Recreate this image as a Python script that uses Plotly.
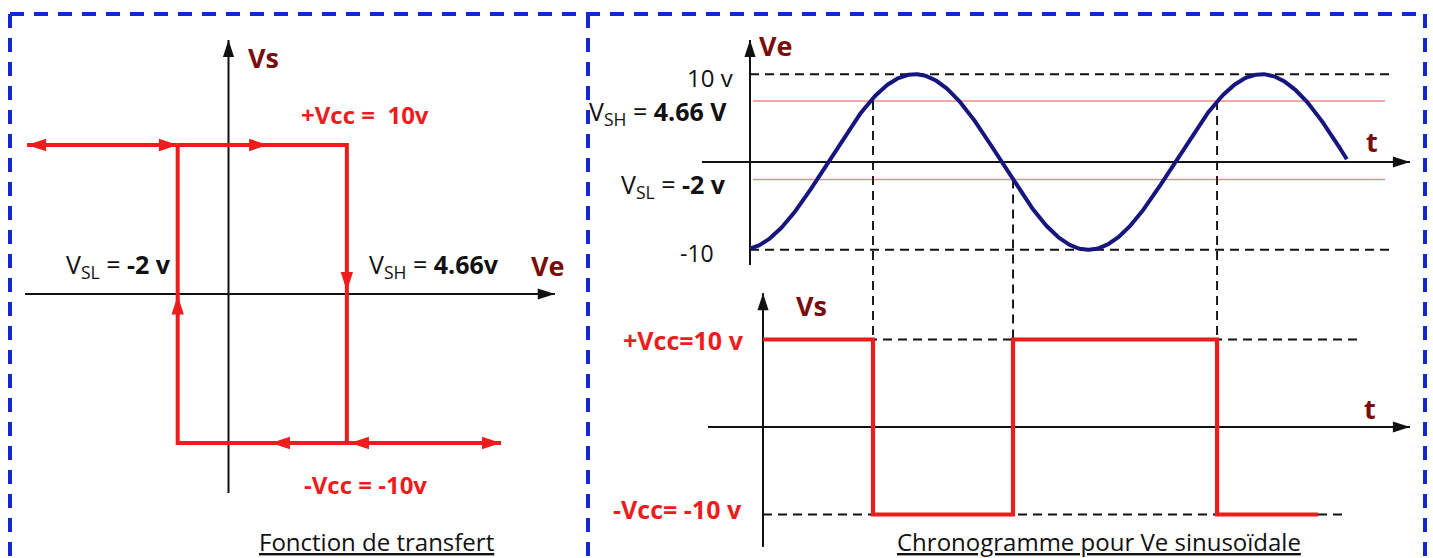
import math
import plotly.graph_objects as go

# ---------------- data ----------------
VCC = 10.0          # saturation level (V)
VSL = -2.0          # low threshold (V)
VSH = 4.66          # high threshold (V)

# transfer characteristic Vs = f(Ve) : hysteresis loop
loop_ve = [VSL, VSH, VSH, VSL, VSL]
loop_vs = [VCC, VCC, -VCC, -VCC, VCC]
ext_left_ve = [-7.93, VSL]      # double arrow on +Vcc branch
ext_right_ve = [VSH, 10.73]     # double arrow on -Vcc branch
loop_arrow_ve = [-7.93, -1.99, 1.56, VSH, VSL, 1.67, 4.78, 10.73]
loop_arrow_vs = [VCC, VCC, VCC, 0.2, -0.1, -VCC, -VCC, -VCC]
loop_arrow_dir = [270, 90, 90, 180, 0, 270, 270, 90]
transfer_axis_ve = [-8.01, 12.85]
transfer_axis_vs = [-13.36, 17.05]

# chronogram: sinusoidal input Ve(t)  (t in ms)
sine_amp = 10.0
sine_period = 20.0
sine_zero_up = 4.5
sine_t_start, sine_t_end = 0.0, 34.4
vsh_drawn = 6.95     # level of the V_SH line as drawn on the chronogram
vsl_drawn = -2.0
switch_t = [7.09, 15.16, 26.92]     # output switching instants
switch_level = [vsh_drawn, vsl_drawn, vsh_drawn]
chrono_t_span = [0.0, 36.9]
thr_t_span = [0.17, 36.6]
ve_axis_t = [-2.77, 38.04]
ve_axis_v = [-11.73, 13.9]

# output square wave Vs(t)
vs_t = [0.75, 7.09, 7.09, 15.16, 15.16, 26.92, 26.92, 32.74]
vs_v = [VCC, VCC, -VCC, -VCC, VCC, VCC, -VCC, -VCC]
vs_pos_span = [0.75, 35.27]
vs_neg_span = [0.75, 34.29]
vs_axis_t = [-2.42, 38.04]
vs_axis_v = [-13.7, 15.3]
vs_axis_t0 = 0.75

# ---------------- geometry helpers ----------------
W, H = 1433, 558
# panel A (transfer)
AX0, ASX, AY0, ASY = 228.5, 25.4, 294.0, 14.9
# panel B (Ve(t)) and C (Vs(t)) share the time scale
BX0, BSX, BY0, BSY = 750.0, 17.35, 162.0, 8.78
CY0, CSY = 427.0, 8.75


def xr(px0, s):
    return [(0 - px0) / s, (W - px0) / s]


def yr(py0, s):
    return [(py0 - H) / s, py0 / s]


def c_to_b(v):
    """value on the Vs(t) axis -> same height on the Ve(t) axis"""
    return (BY0 - (CY0 - CSY * v)) / BSY


RED = "#ee1c1c"
DARKRED = "#7a0c0c"
BLACK = "#111111"
NAVY = "#16167e"
PINK = "#f08a8a"
BLUE = "#1428d2"
FONT = "Open Sans"

fig = go.Figure()


def line(xs, ys, xa, ya, color, width, dash=None):
    fig.add_trace(go.Scatter(x=xs, y=ys, xaxis=xa, yaxis=ya, mode="lines",
                             line=dict(color=color, width=width, dash=dash),
                             hoverinfo="skip", showlegend=False))


def arrows(xs, ys, angles, xa, ya, color, size):
    fig.add_trace(go.Scatter(x=xs, y=ys, xaxis=xa, yaxis=ya, mode="markers",
                             marker=dict(symbol="arrow", size=size, angle=angles,
                                         color=color, line=dict(width=0)),
                             hoverinfo="skip", showlegend=False))


# ---- panel A : transfer characteristic ----
line(transfer_axis_ve, [0, 0], "x", "y", BLACK, 2)
line([0, 0], transfer_axis_vs, "x", "y", BLACK, 2)
arrows([transfer_axis_ve[1], 0], [0, transfer_axis_vs[1]], [90, 0], "x", "y", BLACK, 18)
line(loop_ve, loop_vs, "x", "y", RED, 4)
line(ext_left_ve, [VCC, VCC], "x", "y", RED, 4)
line(ext_right_ve, [-VCC, -VCC], "x", "y", RED, 4)
arrows(loop_arrow_ve, loop_arrow_vs, loop_arrow_dir, "x", "y", RED, 20)

# ---- panel B : Ve(t) ----
for lv in (sine_amp, -sine_amp):
    line(chrono_t_span, [lv, lv], "x2", "y2", BLACK, 1.9, "9px,6px")
line(thr_t_span, [vsh_drawn, vsh_drawn], "x2", "y2", PINK, 1.6)
line(thr_t_span, [vsl_drawn, vsl_drawn], "x2", "y2", PINK, 1.6)
line(ve_axis_t, [0, 0], "x2", "y2", BLACK, 2)
line([0, 0], ve_axis_v, "x2", "y2", BLACK, 2)
arrows([ve_axis_t[1], 0], [0, ve_axis_v[1]], [90, 0], "x2", "y2", BLACK, 18)
for ts, lv in zip(switch_t, switch_level):
    line([ts, ts], [lv, c_to_b(VCC)], "x2", "y2", BLACK, 1.9, "9px,6px")

n = 600
ts_ = [sine_t_start + (sine_t_end - sine_t_start) * i / (n - 1) for i in range(n)]
ve_ = [sine_amp * math.sin(2 * math.pi * (t - sine_zero_up) / sine_period) for t in ts_]
line(ts_, ve_, "x2", "y2", NAVY, 4)

# ---- panel C : Vs(t) ----
line(vs_pos_span, [VCC, VCC], "x2", "y3", BLACK, 1.9, "9px,6px")
line(vs_neg_span, [-VCC, -VCC], "x2", "y3", BLACK, 1.9, "9px,6px")
line(vs_axis_t, [0, 0], "x2", "y3", BLACK, 2)
line([vs_axis_t0, vs_axis_t0], vs_axis_v, "x2", "y3", BLACK, 2)
arrows([vs_axis_t[1], vs_axis_t0], [0, vs_axis_v[1]], [90, 0], "x2", "y3", BLACK, 18)
line(vs_t, vs_v, "x2", "y3", RED, 4.2)

# ---------------- text ----------------
ann = []


def txt(text, px, py, size, color=BLACK, bold=False, under=False):
    f = dict(family=FONT, size=size, color=color)
    if bold:
        f["weight"] = "bold"
    if under:
        f["lineposition"] = "under"
    ann.append(dict(text=text, x=px / W, y=1 - py / H, xref="paper", yref="paper",
                    xanchor="center", yanchor="middle", showarrow=False, font=f))


# panel A
txt("Vs", 263, 58, 27, DARKRED, bold=True)
txt("+Vcc =  10v", 365, 114, 24, RED, bold=True)
txt("V<sub>SL</sub> = <b>-2 v</b>", 118, 266, 25)
txt("V<sub>SH</sub> = <b>4.66v</b>", 434, 265, 25)
txt("Ve", 548, 265, 27, DARKRED, bold=True)
txt("-Vcc = -10v", 366, 484, 24, RED, bold=True)
txt("Fonction de transfert", 376, 541, 24, under=True)
# panel B
txt("Ve", 776, 45, 27, DARKRED, bold=True)
txt("10 v", 710, 77, 24)
txt("V<sub>SH</sub> = <b>4.66 V</b>", 658, 112, 25)
txt("V<sub>SL</sub> = <b>-2 v</b>", 673, 186, 25)
txt("-10", 697, 253, 23)
txt("t", 1372, 141, 27, DARKRED, bold=True)
# panel C
txt("Vs", 811, 305, 27, DARKRED, bold=True)
txt("+Vcc=10 v", 683, 340, 25, RED, bold=True)
txt("-Vcc= -10 v", 677, 509, 25, RED, bold=True)
txt("t", 1370, 408, 27, DARKRED, bold=True)
txt("Chronogramme pour Ve sinusoïdale", 1099, 541, 24, under=True)

# ---------------- frames (blue dashed) ----------------
shapes = []


def frame(x0, y0, x1, y1):
    shapes.append(dict(type="line", xref="paper", yref="paper",
                       x0=x0 / W, y0=1 - y0 / H, x1=x1 / W, y1=1 - y1 / H,
                       line=dict(color=BLUE, width=4, dash="14px,10px")))


frame(10, 14, 1425, 14)
frame(10, 14, 10, H)
frame(588, 14, 588, H)
frame(1425, 14, 1425, H)

noax = dict(visible=False, fixedrange=True, domain=[0, 1])
fig.update_layout(
    width=W, height=H,
    margin=dict(l=0, r=0, t=0, b=0),
    paper_bgcolor="white", plot_bgcolor="rgba(0,0,0,0)",
    showlegend=False,
    xaxis=dict(noax, range=xr(AX0, ASX)),
    yaxis=dict(noax, range=yr(AY0, ASY)),
    xaxis2=dict(noax, range=xr(BX0, BSX), overlaying="x", anchor="y2"),
    yaxis2=dict(noax, range=yr(BY0, BSY), overlaying="y", anchor="x2"),
    yaxis3=dict(noax, range=yr(CY0, CSY), overlaying="y", anchor="x2"),
    annotations=ann,
    shapes=shapes,
)

fig.write_html("out.html", config={"displayModeBar": False},
               post_script="document.body.style.margin='0px';"
                           "document.body.style.overflow='hidden';")
